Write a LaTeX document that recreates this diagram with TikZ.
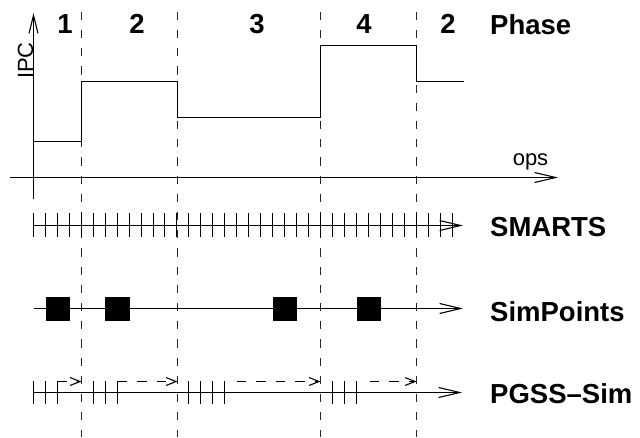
\documentclass[tikz,border=0pt]{standalone}
\usepackage{fontspec}
\setmainfont{Liberation Sans}
\usetikzlibrary{arrows.meta}
\tikzset{
  ln/.style={line width=1.1pt, black},
  tk/.style={line width=1.05pt, black},
  bigtip/.style={-{Straight Barb[length=21pt,width=10pt,line width=1.1pt]}},
  smalltip/.style={-{Straight Barb[length=10pt,width=8pt,line width=1.1pt]}},
  vdash/.style={line width=1pt, black!85, dash pattern=on 8.3pt off 9.9pt},
  hdash/.style={line width=1.1pt, dash pattern=on 9.5pt off 10pt},
  lab/.style={font=\fontsize{27.5}{30}\selectfont\bfseries, inner sep=0pt},
  small/.style={font=\fontsize{22}{24}\selectfont, inner sep=0pt},
  sq/.style={fill=black, draw=none, minimum size=24.5pt, inner sep=0pt},
}
\begin{document}
\begin{tikzpicture}[x=1pt,y=-1pt]
\useasboundingbox (0,0) rectangle (640,437);

% phase boundaries
\foreach \n/\x in {b1/81.5,b2/177.5,b3/320.5,b4/416.5}{
  \coordinate (\n top) at (\x,11.7);
  \coordinate (\n bot) at (\x,437);
  \draw[vdash] (\n top) -- (\n bot);
}

% axes
\coordinate (yb) at (33.5,199);
\coordinate (yt) at (33.5,13);
\coordinate (xl) at (10,177.5);
\coordinate (xr) at (558,177.5);
\draw[ln,-{Straight Barb[length=18pt,width=9pt,line width=1.1pt]}] (yb) -- (yt);
\draw[ln,bigtip] (xl) -- (xr);
\node[small, rotate=90, anchor=base] (ipc) at (33,60.5) {IPC};
\node[small, anchor=base] (ops) at (530.5,165.7) {ops};

% IPC step curve
\draw[ln] (34,141.5) -- (81.5,141.5) -- (81.5,81.5) -- (177.5,81.5) -- (177.5,117.5)
  -- (320.5,117.5) -- (320.5,45.5) -- (416.5,45.5) -- (416.5,81.5) -- (464,81.5);

% phase labels
\node[lab, anchor=base] (p1) at (65,33.5) {1};
\node[lab, anchor=base] (p2) at (137,33.5) {2};
\node[lab, anchor=base] (p3) at (257,33.5) {3};
\node[lab, anchor=base] (p4) at (364,33.5) {4};
\node[lab, anchor=base] (p5) at (448,33.5) {2};
\node[lab, anchor=base west] (phase) at (490,34) {Phase};

% SMARTS row
\coordinate (s0) at (33.5,225.5);
\coordinate (s1) at (463,225.5);
\foreach \k in {0,...,35}{
  \pgfmathsetmacro{\tx}{floor(33.3+11.97*\k)+0.5}
  \draw[tk] (\tx,213) -- ++(0,24);
}
\draw[ln,bigtip] (s0) -- (s1);
\node[lab, anchor=base west] (smarts) at (490,236.7) {SMARTS};

% SimPoints row
\coordinate (q0) at (34,308.5);
\coordinate (q1) at (463,308.5);
\draw[ln,bigtip] (q0) -- (q1);
\node[sq] (sp1) at (57.8,309) {};
\node[sq] (sp2) at (117.7,309) {};
\node[sq] (sp3) at (285,309) {};
\node[sq] (sp4) at (368.8,309) {};
\node[lab, anchor=base west] (simpoints) at (490,321) {SimPoints};

% PGSS-Sim row
\coordinate (g0) at (33.5,392.5);
\coordinate (g1) at (462,392.5);
\foreach \k in {0,1,2,5,6,7,13,14,15,16,25,26,27}{
  \pgfmathsetmacro{\tx}{floor(33.3+11.97*\k)+0.5}
  \draw[tk] (\tx,381) -- ++(0,23);
}
\draw[ln,bigtip] (g0) -- (g1);
\coordinate (d1a) at (57.5,381.5);  \coordinate (d1b) at (81.5,381.5);
\coordinate (d2a) at (117.5,381.5); \coordinate (d2b) at (177.5,381.5);
\coordinate (d3a) at (236.5,381.5); \coordinate (d3b) at (320.5,381.5);
\coordinate (d4a) at (369.5,381.5); \coordinate (d4b) at (416.5,381.5);
\draw[ln,hdash,smalltip] (d1a) -- (d1b);
\draw[ln,hdash,smalltip] (d2a) -- (d2b);
\draw[ln,hdash,smalltip] (d3a) -- (d3b);
\draw[ln,hdash,smalltip] (d4a) -- (d4b);
\node[lab, anchor=base west] (pgss) at (490,403.3) {PGSS–Sim};
\end{tikzpicture}
\end{document}
